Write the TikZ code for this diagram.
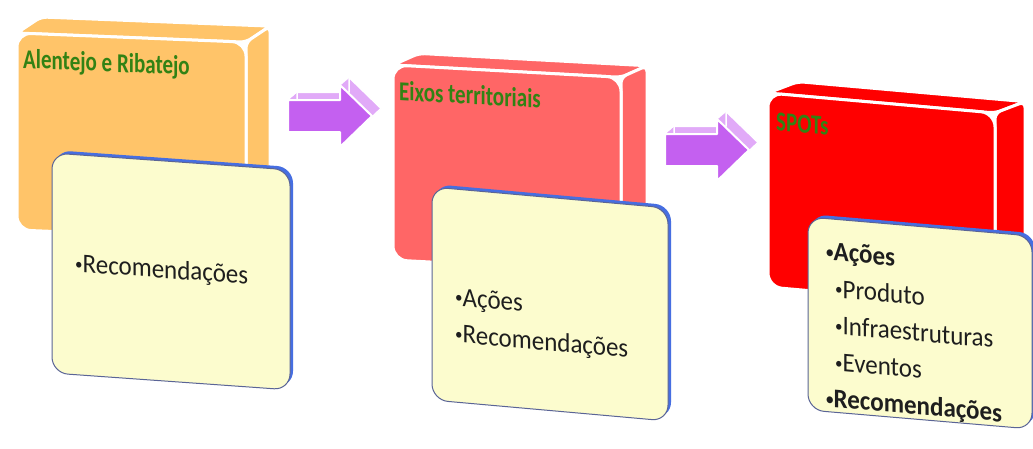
\documentclass[tikz,border=0pt]{standalone}
\usepackage{fontspec}
\usepackage{graphicx}
\setmainfont{Carlito}

\definecolor{slabA}{RGB}{255,196,105}
\definecolor{slabB}{RGB}{255,102,102}
\definecolor{slabC}{RGB}{255,0,0}
\definecolor{card}{RGB}{252,252,206}
\definecolor{cardedge}{RGB}{70,110,225}
\definecolor{cardline}{RGB}{90,100,150}
\definecolor{arrowfill}{RGB}{196,96,240}
\definecolor{arrowside}{RGB}{225,170,248}
\definecolor{titlegreen}{RGB}{50,130,20}
\definecolor{ink}{RGB}{30,30,30}

% small list bullet
\newcommand\bul{\raisebox{0.1em}{\scalebox{0.6}{•}}}

\tikzset{
  face/.style={draw=white, line width=3pt, line join=round},
  titletext/.style={anchor=base west, inner sep=0pt, transform shape, yscale=1.3,
    text=titlegreen, font=\fontsize{21}{25}\selectfont\bfseries},
  cardtext/.style={anchor=west, inner sep=0pt, transform shape, yscale=1.08,
    text=ink, align=left, font=\fontsize{25}{34}\selectfont},
  % frames of the three slabs and their cards (pixel units, y pointing down)
  slabAframe/.style={shift={(17,33)}, yslant=-0.04},
  slabBframe/.style={shift={(393,65)}, yslant=-0.054},
  slabCframe/.style={shift={(768,93)}, yslant=-0.088},
  cardAframe/.style={shift={(52,153)}, yslant=-0.071},
  cardBframe/.style={shift={(432,187)}, yslant=-0.089},
  cardCframe/.style={shift={(808,217)}, yslant=-0.085},
}

% a block seen in perspective: top face, right face, rounded front face
\newcommand\slabfaces[5]{% width, height, depth x, depth y, colour
  \path[fill=#5, face, rounded corners=6pt]
    (0,0) -- (#3,#4) -- ({#1+#3},#4) -- (#1,0) -- cycle;
  \path[fill=#5, face, rounded corners=6pt]
    (#1,0) -- ({#1+#3},#4) -- ({#1+#3},{#2+#4}) -- (#1,#2) -- cycle;
  \path[fill=#5, face, rounded corners=14pt] (0,0) rectangle (#1,#2);
}

% a light card with a blue raised edge
\newcommand\cardfaces[2]{% width, height
  \path[fill=cardedge, rounded corners=16pt] (3,-3) rectangle ++(#1,#2);
  \path[fill=card, draw=cardline, line width=1pt, rounded corners=16pt]
    (0,0) rectangle (#1,#2);
}

% outline of a block arrow, tail centre at the origin
\newcommand\arrowbody[1]{%
  \path[#1] (0,-16) -- (52,-16) -- (52,-31) -- (84,0) -- (52,31) -- (52,16)
    -- (0,16) -- cycle;
}
\newcommand\blockarrow{%
  \foreach \t in {1,...,9}{%
    \begin{scope}[shift={(\t,{-0.85*\t})}]
      \arrowbody{fill=arrowside}
    \end{scope}}
  \begin{scope}[shift={(9,-7.6)}]
    \arrowbody{draw=white, line width=1.5pt, line join=round}
  \end{scope}
  \arrowbody{fill=arrowfill, draw=white, line width=2pt, line join=round}
}

\begin{document}
\begin{tikzpicture}[x=1pt, y=-1pt]
\useasboundingbox[fill=white] (0,0) rectangle (1033,448);

% first stage
\begin{scope}[slabAframe]
  \slabfaces{229}{197}{24}{-17}{slabA}
  \node[titletext] (tA) at (6,35) {Alentejo e Ribatejo};
\end{scope}
\begin{scope}[cardAframe]
  \cardfaces{238}{220}
  \node[cardtext] (cA) at (23,110) {\bul Recomendações};
\end{scope}

\begin{scope}[shift={(288,116)}]
  \blockarrow
\end{scope}

% second stage
\begin{scope}[slabBframe]
  \slabfaces{228}{195}{26}{-13}{slabB}
  \node[titletext] (tB) at (6,35) {Eixos territoriais};
\end{scope}
\begin{scope}[cardBframe]
  \cardfaces{236}{213}
  \node[cardtext] (cB) at (23,128) {\bul Ações\\\bul Recomendações};
\end{scope}

\begin{scope}[shift={(665,150)}]
  \blockarrow
\end{scope}

% third stage
\begin{scope}[slabCframe]
  \slabfaces{227}{194}{30}{-14}{slabC}
  \node[titletext] (tC) at (8,37) {SPOTs};
\end{scope}
\begin{scope}[cardCframe]
  \cardfaces{224}{193}
  \node[cardtext] (cC) at (18,108)
    {\textbf{\bul Ações}\\
     \hspace*{9pt}\bul Produto\\
     \hspace*{9pt}\bul Infraestruturas\\
     \hspace*{9pt}\bul Eventos\\
     \textbf{\bul Recomendações}};
\end{scope}
\end{tikzpicture}
\end{document}
